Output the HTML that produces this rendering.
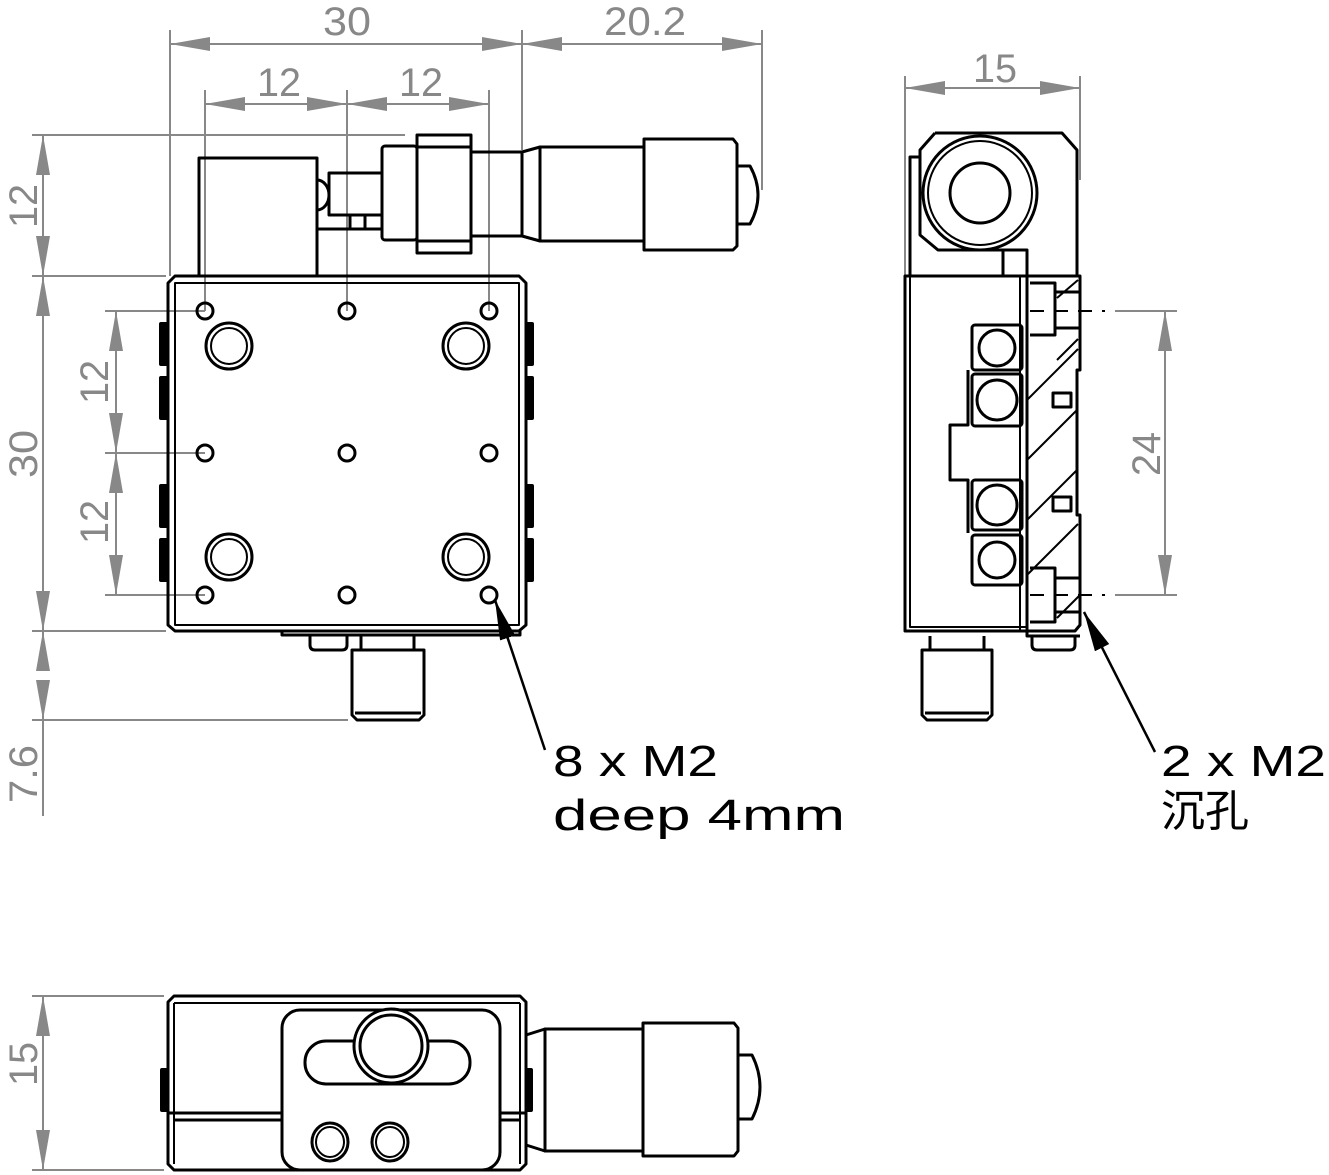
<!DOCTYPE html>
<html><head><meta charset="utf-8"><style>
html,body{margin:0;padding:0;background:#fff}
svg{display:block}
.k{fill:none;stroke:#000;stroke-width:3;stroke-linejoin:round}
.t{fill:none;stroke:#000;stroke-width:2}
.g{fill:none;stroke:#888;stroke-width:2}
.d{fill:#888;font-family:"Liberation Sans",sans-serif;font-size:40px}
.b{fill:#000;font-family:"Liberation Sans","Noto Sans CJK SC",sans-serif;font-size:44px}
</style></head><body>
<svg width="1329" height="1175" viewBox="0 0 1329 1175" xmlns="http://www.w3.org/2000/svg">
<defs>
<marker id="a" viewBox="0 0 40 14" refX="40" refY="7" markerWidth="40" markerHeight="14" markerUnits="userSpaceOnUse" orient="auto-start-reverse"><path d="M40,7 L0,0 L0,14 Z" fill="#888"/></marker>
<marker id="ab" viewBox="0 0 40 16" refX="40" refY="8" markerWidth="40" markerHeight="16" markerUnits="userSpaceOnUse" orient="auto-start-reverse"><path d="M40,8 L0,0 L0,16 Z" fill="#000"/></marker>
</defs>

<!-- ===== Dimensions front view ===== -->
<g class="g">
<line x1="170" y1="30" x2="170" y2="276"/>
<line x1="522" y1="30" x2="522" y2="150"/>
<line x1="762" y1="30" x2="762" y2="190"/>
<line x1="170" y1="44" x2="522" y2="44" marker-start="url(#a)" marker-end="url(#a)"/>
<line x1="522" y1="44" x2="762" y2="44" marker-start="url(#a)" marker-end="url(#a)"/>
<line x1="205" y1="90" x2="205" y2="311"/>
<line x1="347" y1="90" x2="347" y2="311"/>
<line x1="489" y1="90" x2="489" y2="311"/>
<line x1="205" y1="104" x2="347" y2="104" marker-start="url(#a)" marker-end="url(#a)"/>
<line x1="347" y1="104" x2="489" y2="104" marker-start="url(#a)" marker-end="url(#a)"/>
<line x1="32" y1="135" x2="405" y2="135"/>
<line x1="32" y1="276" x2="166" y2="276"/>
<line x1="32" y1="631" x2="166" y2="631"/>
<line x1="32" y1="720" x2="348" y2="720"/>
<line x1="43" y1="135" x2="43" y2="276" marker-start="url(#a)" marker-end="url(#a)"/>
<line x1="43" y1="276" x2="43" y2="631" marker-start="url(#a)" marker-end="url(#a)"/>
<line x1="43" y1="631" x2="43" y2="671" marker-start="url(#a)"/>
<line x1="43" y1="680" x2="43" y2="720" marker-end="url(#a)"/>
<line x1="43" y1="720" x2="43" y2="816"/>
<line x1="105" y1="311" x2="205" y2="311"/>
<line x1="105" y1="453" x2="205" y2="453"/>
<line x1="105" y1="595" x2="205" y2="595"/>
<line x1="116" y1="311" x2="116" y2="453" marker-start="url(#a)" marker-end="url(#a)"/>
<line x1="116" y1="453" x2="116" y2="595" marker-start="url(#a)" marker-end="url(#a)"/>
</g>
<text class="d" x="323" y="35" textLength="48" lengthAdjust="spacingAndGlyphs">30</text>
<text class="d" x="604" y="35" textLength="82" lengthAdjust="spacingAndGlyphs">20.2</text>
<text class="d" x="257" y="96" textLength="44" lengthAdjust="spacingAndGlyphs">12</text>
<text class="d" x="399" y="96" textLength="44" lengthAdjust="spacingAndGlyphs">12</text>
<text class="d" transform="translate(37,228) rotate(-90)" textLength="44" lengthAdjust="spacingAndGlyphs">12</text>
<text class="d" transform="translate(37,478) rotate(-90)" textLength="48" lengthAdjust="spacingAndGlyphs">30</text>
<text class="d" transform="translate(37,803) rotate(-90)" textLength="58" lengthAdjust="spacingAndGlyphs">7.6</text>
<text class="d" transform="translate(108,404) rotate(-90)" textLength="44" lengthAdjust="spacingAndGlyphs">12</text>
<text class="d" transform="translate(108,544) rotate(-90)" textLength="44" lengthAdjust="spacingAndGlyphs">12</text>

<!-- ===== Front view ===== -->
<g class="k">
<rect x="199" y="158" width="118" height="118"/>
<path d="M317,180 A12,15 0 0 1 317,210"/>
<rect x="329" y="173" width="53" height="42"/>
<path d="M317,229 H382 M350,215 V229 M365,215 V229"/>
<rect x="382" y="146" width="35" height="94" rx="3"/>
<rect x="417" y="135" width="54" height="118"/>
<path d="M417,147 H471 M417,241 H471"/>
<path d="M471,152 H522 V236 H471"/>
<path d="M522,152 L540,147 V241 L522,236"/>
<rect x="540" y="147" width="104" height="94"/>
<path d="M644,139 H733 L737,144 V246 L733,250 H644 Z"/>
<path d="M737,166 H750 Q766,195 750,224 H737"/>
<path d="M168,283 L175,276 H519 L526,283 V625 L519,631 H175 L168,625 Z"/>
<path d="M175,283 H519 V625 H175 Z" class="t"/>
</g>
<g fill="#000">
<rect x="159" y="322" width="9" height="44" rx="2"/><rect x="159" y="376" width="9" height="44" rx="2"/>
<rect x="159" y="484" width="9" height="44" rx="2"/><rect x="159" y="538" width="9" height="44" rx="2"/>
<rect x="526" y="322" width="8" height="44" rx="2"/><rect x="526" y="376" width="8" height="44" rx="2"/>
<rect x="526" y="484" width="8" height="44" rx="2"/><rect x="526" y="538" width="8" height="44" rx="2"/>
</g>
<g class="k">
<circle cx="205" cy="311" r="8"/><circle cx="347" cy="311" r="8"/><circle cx="489" cy="311" r="8"/>
<circle cx="205" cy="453" r="8"/><circle cx="347" cy="453" r="8"/><circle cx="489" cy="453" r="8"/>
<circle cx="205" cy="595" r="8"/><circle cx="347" cy="595" r="8"/><circle cx="489" cy="595" r="8"/>
<circle cx="229" cy="346" r="23"/><circle cx="229" cy="346" r="18" class="t"/>
<circle cx="466" cy="346" r="23"/><circle cx="466" cy="346" r="18" class="t"/>
<circle cx="229" cy="557" r="23"/><circle cx="229" cy="557" r="18" class="t"/>
<circle cx="466" cy="557" r="23"/><circle cx="466" cy="557" r="18" class="t"/>
<path d="M282,631 V635 H520 V631"/>
<path d="M310,635 V645 Q310,650 315,650 H342 Q347,650 347,645 V635"/>
<path d="M361,635 V650 M414,635 V650"/>
<path d="M352,650 H424 V715 L419,720 H357 L352,715 Z M355,713 H421"/>
</g>
<line x1="545" y1="750" x2="495" y2="600" stroke="#000" stroke-width="2.5" marker-end="url(#ab)"/>
<text class="b" x="553" y="776" textLength="165" lengthAdjust="spacingAndGlyphs">8 x M2</text>
<text class="b" x="553" y="830" textLength="292" lengthAdjust="spacingAndGlyphs">deep 4mm</text>

<!-- ===== Side view ===== -->
<g class="g">
<line x1="905" y1="76" x2="905" y2="276"/>
<line x1="1080" y1="76" x2="1080" y2="180"/>
<line x1="905" y1="88" x2="1080" y2="88" marker-start="url(#a)" marker-end="url(#a)"/>
<line x1="1115" y1="311" x2="1177" y2="311"/>
<line x1="1115" y1="595" x2="1177" y2="595"/>
<line x1="1165" y1="311" x2="1165" y2="595" marker-start="url(#a)" marker-end="url(#a)"/>
</g>
<text class="d" x="973" y="82" textLength="44" lengthAdjust="spacingAndGlyphs">15</text>
<text class="d" transform="translate(1160,476) rotate(-90)" textLength="44" lengthAdjust="spacingAndGlyphs">24</text>
<g class="k">
<path d="M935,133 H1062 L1077,150 V276 M1027,276 V250 H1003 V276 M1003,250 H938 L920,235 V150 L935,133"/>
<path d="M920,157 H910 V276"/>
<circle cx="980" cy="193" r="57"/><circle cx="980" cy="193" r="52" class="t"/>
<circle cx="980" cy="193" r="30"/>
<rect x="905" y="276" width="122" height="355"/>
<path d="M910,276 V627 H1027" class="t"/>
<path d="M1027,276 H1080 V370 H1077 V515 H1080 V625 L1075,631 H1027"/>
<path d="M1020,276 V631" class="t"/>
<rect x="972" y="325" width="50" height="45" rx="3"/>
<rect x="972" y="374" width="50" height="52" rx="3"/>
<rect x="972" y="480" width="50" height="50" rx="3"/>
<rect x="972" y="535" width="50" height="50" rx="3"/>
<path d="M968,370 V425 H950 V480 H968 V533"/>
<circle cx="997" cy="348" r="18"/><circle cx="997" cy="400" r="20"/>
<circle cx="997" cy="505" r="20"/><circle cx="997" cy="560" r="18"/>
<path d="M1030,283 H1055 V335 H1030 M1055,292 H1080 M1055,328 H1080"/>
<path d="M1030,568 H1055 V622 H1030 M1055,578 H1080 M1055,612 H1080"/>
<rect x="1053" y="393" width="18" height="14"/><rect x="1053" y="497" width="18" height="14"/>
<path d="M1027,631 V636 H1080"/>
<path d="M1032,636 V645 Q1032,650 1037,650 H1070 Q1075,650 1075,645 V636"/>
<path d="M930,636 V650 M984,636 V650"/>
<path d="M922,650 H992 V715 L987,720 H927 L922,715 Z M925,713 H989"/>
</g>
<g stroke="#000" stroke-width="2">
<path d="M1027,400 L1078,349 M1027,460 L1077,410 M1027,520 L1077,470 M1027,575 L1078,524 M1057,360 L1078,339 M1057,618 L1080,595 M1057,298 L1078,280"/>
</g>
<g stroke="#000" stroke-width="2" stroke-dasharray="14,10">
<line x1="1030" y1="311" x2="1105" y2="311"/>
<line x1="1030" y1="595" x2="1105" y2="595"/>
</g>
<line x1="1155" y1="752" x2="1084" y2="612" stroke="#000" stroke-width="2.5" marker-end="url(#ab)"/>
<text class="b" x="1161" y="776" textLength="165" lengthAdjust="spacingAndGlyphs">2 x M2</text>
<text class="b" x="1161" y="826">沉孔</text>

<!-- ===== Bottom view ===== -->
<g class="g">
<line x1="32" y1="996" x2="164" y2="996"/>
<line x1="32" y1="1170" x2="164" y2="1170"/>
<line x1="43" y1="996" x2="43" y2="1170" marker-start="url(#a)" marker-end="url(#a)"/>
</g>
<text class="d" transform="translate(37,1086) rotate(-90)" textLength="44" lengthAdjust="spacingAndGlyphs">15</text>
<g class="k">
<path d="M168,1002 L174,996 H520 L526,1002 V1164 L520,1170 H174 L168,1164 Z"/>
<path d="M174,1003 H520 M174,1003 V1164 M520,1003 V1164" class="t"/>
<path d="M168,1113 H282 M500,1113 H526 M174,1120 H282 M500,1120 H520"/>
<rect x="282" y="1010" width="218" height="160" rx="18"/>
<rect x="305" y="1041" width="165" height="43" rx="21"/>
<circle cx="391" cy="1046" r="37" fill="#fff"/><circle cx="391" cy="1046" r="31"/>
<ellipse cx="330" cy="1142" rx="18" ry="19"/><ellipse cx="330" cy="1142" rx="14" ry="15" class="t"/>
<ellipse cx="390" cy="1142" rx="18" ry="19"/><ellipse cx="390" cy="1142" rx="14" ry="15" class="t"/>
<path d="M526,1035 L545,1029 V1151 L526,1145"/>
<rect x="545" y="1029" width="98" height="122"/>
<path d="M643,1023 H734 L738,1028 V1151 L734,1156 H643 Z"/>
<path d="M738,1055 H752 Q768,1087 752,1119 H738"/>
</g>
<g fill="#000">
<rect x="160" y="1068" width="8" height="44" rx="2"/>
<rect x="526" y="1068" width="7" height="44" rx="2"/>
</g>
</svg>
</body></html>
